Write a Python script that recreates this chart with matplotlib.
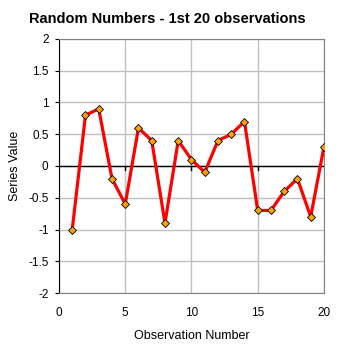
import matplotlib.pyplot as plt
import numpy as np

plt.rcParams['font.family'] = ['Liberation Sans', 'DejaVu Sans']

# data
obs = list(range(1, 21))
values = [-1.0, 0.8, 0.9, -0.2, -0.6, 0.6, 0.4, -0.9, 0.4, 0.1,
          -0.1, 0.4, 0.5, 0.7, -0.7, -0.7, -0.4, -0.2, -0.8, 0.3]
x_ticks = [0, 5, 10, 15, 20]
y_ticks = [-2, -1.5, -1, -0.5, 0, 0.5, 1, 1.5, 2]

fig = plt.figure(figsize=(3.41, 3.48), dpi=100)
ax = fig.add_axes([0.173, 0.158, 0.777, 0.730])

ax.plot(obs, values, color='#FF0000', linewidth=2.3, zorder=3,
        marker='D', markersize=4.5, markerfacecolor='#FFA000',
        markeredgecolor='black', markeredgewidth=0.6)
ax.axhline(0, color='black', linewidth=1.0, zorder=2)
# tick marks on the zero line
for xt in x_ticks[1:-1]:
    ax.plot([xt, xt], [0, -0.06], color='black', linewidth=1.0, zorder=2)

ax.set_xlim(0, 20)
ax.set_ylim(-2, 2)
ax.set_xticks(x_ticks)
ax.set_yticks(y_ticks)
ax.set_yticklabels(['-2', '-1.5', '-1', '-0.5', '0', '0.5', '1', '1.5', '2'])
ax.grid(True, color='#C0C0C0', linewidth=1.0, zorder=0)
ax.set_axisbelow(True)

for s in ['top', 'right', 'bottom']:
    ax.spines[s].set_color('#808080')
ax.spines['left'].set_color('black')
ax.tick_params(axis='x', length=0, labelsize=8.5, pad=10)
ax.tick_params(axis='y', length=3, labelsize=8.5, direction='out', pad=4.5)

fig.suptitle('Random Numbers - 1st 20 observations', x=0.49, y=0.965,
             fontsize=10.5, fontweight='bold')
ax.set_xlabel('Observation Number', fontsize=9, labelpad=8)
ax.set_ylabel('Series Value', fontsize=9, labelpad=5)

plt.savefig('out.png', dpi=100)
